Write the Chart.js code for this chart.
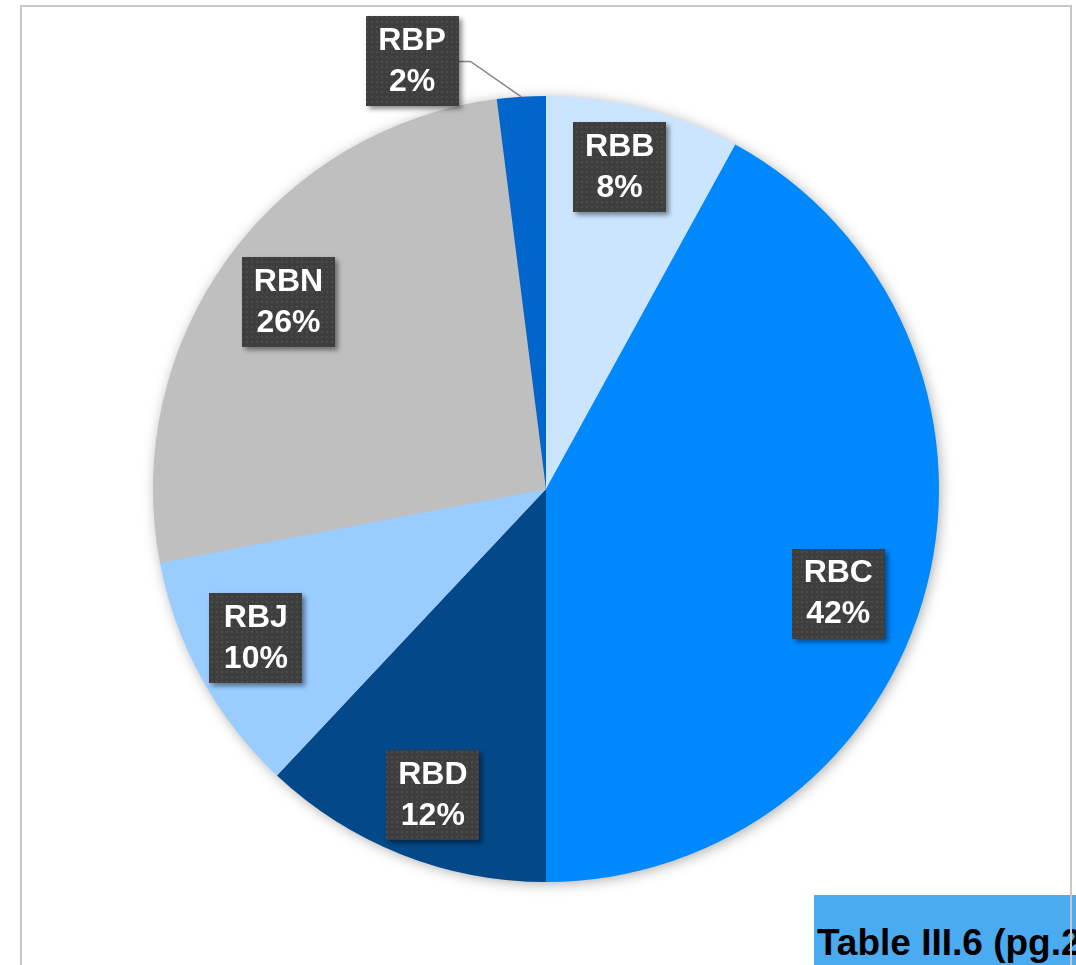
<!DOCTYPE html>
<html>
<head>
<meta charset="utf-8">
<script src="https://cdn.jsdelivr.net/npm/chart.js@4/dist/chart.umd.min.js"></script>
<style>
  html, body { margin: 0; padding: 0; background: #ffffff; overflow: hidden; }
  #wrap { position: relative; width: 1076px; height: 965px; }
  #pie { position: absolute; left: 0; top: 0; }
  .frame {
    position: absolute; left: 20px; top: 5px; width: 1052px; height: 1000px;
    box-sizing: border-box; border: 2px solid #c8c8c8; border-bottom: none;
    z-index: 3; pointer-events: none;
  }
  .tag {
    position: absolute; left: 814px; top: 895px; width: 270px; height: 75px;
    background: #4aabf0; z-index: 2; overflow: hidden;
    font: bold 37px "Liberation Sans", Arial, sans-serif; color: #000;
    white-space: nowrap; line-height: 1;
  }
  .tag span { position: absolute; left: 3px; top: 29px; }
</style>
</head>
<body>
<div id="wrap">
  <canvas id="pie" width="1076" height="965"></canvas>
  <div class="tag"><span>Table III.6 (pg.2</span></div>
  <div class="frame"></div>
</div>
<script>
// Regional shares, clockwise from 12 o'clock
const regions = ['RBB', 'RBC', 'RBD', 'RBJ', 'RBN', 'RBP'];
const shares = [8, 42, 12, 10, 26, 2];
const sliceColors = ['#cce5ff', '#0088ff', '#034888', '#99ccff', '#bfbfbf', '#0066cc'];

// label placement: angle nudge (deg) and distance as a fraction of the radius
const labelSpots = [
  { turn: -1.5, dist: 0.84 },
  { turn: 5.3, dist: 0.79 },
  { turn: -1.3, dist: 0.83 },
  { turn: 1.6, dist: 0.83 },
  { turn: 0, dist: 0.81 },
  { turn: -13.8, dist: 1.14, leader: true },
];

function dottedFill(ctx) {
  const tile = document.createElement('canvas');
  tile.width = 5;
  tile.height = 5;
  const t = tile.getContext('2d');
  t.fillStyle = '#3e3e3e';
  t.fillRect(0, 0, 5, 5);
  t.fillStyle = '#4b4b4b';
  t.fillRect(1, 1, 2, 2);
  return ctx.createPattern(tile, 'repeat');
}

// soft drop shadow behind the whole pie
const pieShadow = {
  id: 'pieShadow',
  beforeDatasetsDraw(chart) {
    const arc = chart.getDatasetMeta(0).data[0];
    if (!arc) return;
    const ctx = chart.ctx;
    ctx.save();
    ctx.shadowColor = 'rgba(0,0,0,0.35)';
    ctx.shadowBlur = 14;
    ctx.shadowOffsetX = 2;
    ctx.shadowOffsetY = 2;
    ctx.fillStyle = '#bfbfbf';
    ctx.beginPath();
    ctx.arc(arc.x, arc.y, arc.outerRadius - 1, 0, Math.PI * 2);
    ctx.fill();
    ctx.restore();
  },
};

const boxLabels = {
  id: 'boxLabels',
  afterDatasetsDraw(chart) {
    const ctx = chart.ctx;
    const fill = dottedFill(ctx);
    const bw = 93, bh = 90;
    chart.getDatasetMeta(0).data.forEach((arc, i) => {
      const spot = labelSpots[i];
      const mid = (arc.startAngle + arc.endAngle) / 2;
      const a = mid + spot.turn * Math.PI / 180;
      const cx = arc.x + Math.cos(a) * arc.outerRadius * spot.dist;
      const cy = arc.y + Math.sin(a) * arc.outerRadius * spot.dist;

      if (spot.leader) {
        const ex = arc.x + Math.cos(mid) * arc.outerRadius;
        const ey = arc.y + Math.sin(mid) * arc.outerRadius;
        ctx.save();
        ctx.strokeStyle = '#858585';
        ctx.lineWidth = 1.5;
        ctx.beginPath();
        ctx.moveTo(cx + bw / 2, cy);
        ctx.lineTo(cx + bw / 2 + 12, cy);
        ctx.lineTo(ex, ey);
        ctx.stroke();
        ctx.restore();
      }

      ctx.save();
      ctx.shadowColor = 'rgba(0,0,0,0.45)';
      ctx.shadowBlur = 5;
      ctx.shadowOffsetX = 3;
      ctx.shadowOffsetY = 3;
      ctx.fillStyle = fill;
      ctx.fillRect(Math.round(cx - bw / 2), Math.round(cy - bh / 2), bw, bh);
      ctx.restore();

      ctx.save();
      ctx.fillStyle = '#ffffff';
      ctx.font = 'bold 32px "Liberation Sans", Arial, sans-serif';
      ctx.textAlign = 'center';
      ctx.textBaseline = 'middle';
      ctx.fillText(regions[i], cx, cy - 20);
      ctx.fillText(shares[i] + '%', cx, cy + 21);
      ctx.restore();
    });
  },
};

new Chart(document.getElementById('pie'), {
  type: 'pie',
  data: {
    labels: regions,
    datasets: [{
      data: shares,
      backgroundColor: sliceColors,
      borderWidth: 0,
    }],
  },
  options: {
    responsive: false,
    animation: false,
    layout: { padding: { left: 153, right: 137, top: 96, bottom: 83 } },
    plugins: {
      legend: { display: false },
      tooltip: { enabled: false },
    },
  },
  plugins: [pieShadow, boxLabels],
});
</script>
</body>
</html>
